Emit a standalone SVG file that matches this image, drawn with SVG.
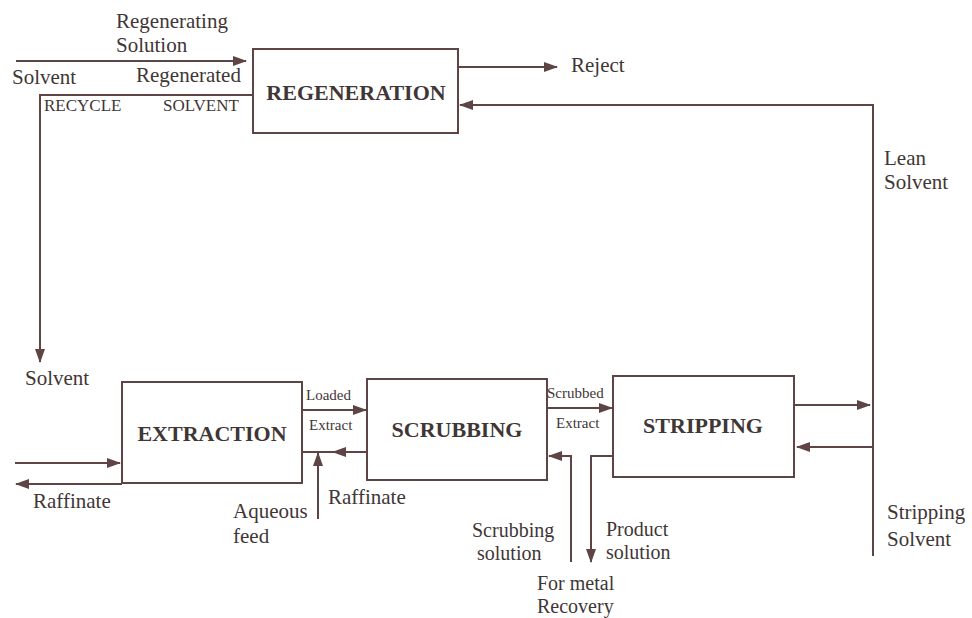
<svg xmlns="http://www.w3.org/2000/svg" width="972" height="618" viewBox="0 0 972 618">
<style>
.box{fill:#fff;stroke:#5e4444;stroke-width:2}
.ln{fill:none;stroke:#5e4444;stroke-width:2}
.t{font-family:"Liberation Serif",serif;font-size:21px;fill:#3f3636}
.m{font-family:"Liberation Serif",serif;font-size:20px;fill:#3f3636}
.s{font-family:"Liberation Serif",serif;font-size:17px;fill:#3f3636}
.xs{font-family:"Liberation Serif",serif;font-size:15px;fill:#3f3636}
.b{font-family:"Liberation Serif",serif;font-size:22px;font-weight:bold;fill:#3f3636}
</style>
<defs>
<marker id="ah" markerUnits="userSpaceOnUse" markerWidth="14" markerHeight="10" refX="13" refY="5" orient="auto">
<path d="M0,0 L14,5 L0,10 Z" fill="#5e4444"/>
</marker>
</defs>
<rect width="972" height="618" fill="#fff"/>
<g id="connectors">
<path class="ln" d="M16,61 H246" marker-end="url(#ah)"/>
<path class="ln" d="M253,95 H40 V362" marker-end="url(#ah)"/>
<path class="ln" d="M458,67 H557" marker-end="url(#ah)"/>
<path class="ln" d="M873,556 V105 H460" marker-end="url(#ah)"/>
<path class="ln" d="M15,463 H120" marker-end="url(#ah)"/>
<path class="ln" d="M122,484 H16" marker-end="url(#ah)"/>
<path class="ln" d="M302,410 H366" marker-end="url(#ah)"/>
<path class="ln" d="M367,452 H333" marker-end="url(#ah)"/>
<path class="ln" d="M333,452 H302"/>
<path class="ln" d="M318,519 V453" marker-end="url(#ah)"/>
<path class="ln" d="M547,408 H612" marker-end="url(#ah)"/>
<path class="ln" d="M571,562 V456 H549" marker-end="url(#ah)"/>
<path class="ln" d="M613,456 H591 V562" marker-end="url(#ah)"/>
<path class="ln" d="M795,405 H870" marker-end="url(#ah)"/>
<path class="ln" d="M873,447 H797" marker-end="url(#ah)"/>
</g>
<g id="regeneration">
<rect class="box" x="253" y="49" width="205" height="84"/>
<text class="b" x="356" y="100" text-anchor="middle">REGENERATION</text>
</g>
<g id="extraction">
<rect class="box" x="122" y="382" width="180" height="101"/>
<text class="b" x="212" y="441" text-anchor="middle">EXTRACTION</text>
</g>
<g id="scrubbing">
<rect class="box" x="367" y="379" width="180" height="101"/>
<text class="b" x="457" y="437" text-anchor="middle">SCRUBBING</text>
</g>
<g id="stripping">
<rect class="box" x="613" y="376" width="181" height="101"/>
<text class="b" x="703" y="433" text-anchor="middle">STRIPPING</text>
</g>
<g id="labels">
<text class="t" x="116" y="28">Regenerating</text>
<text class="t" x="116" y="52">Solution</text>
<text class="t" x="12" y="84">Solvent</text>
<text class="t" x="136" y="82">Regenerated</text>
<text class="s" x="44" y="111">RECYCLE</text>
<text class="s" x="163" y="111">SOLVENT</text>
<text class="t" x="571" y="72">Reject</text>
<text class="t" x="884" y="165">Lean</text>
<text class="t" x="884" y="189">Solvent</text>
<text class="t" x="25" y="385">Solvent</text>
<text class="t" x="33" y="508">Raffinate</text>
<text class="xs" x="306" y="400">Loaded</text>
<text class="xs" x="309" y="430">Extract</text>
<text class="t" x="233" y="518">Aqueous</text>
<text class="t" x="233" y="543">feed</text>
<text class="t" x="328" y="504">Raffinate</text>
<text class="xs" x="547" y="398">Scrubbed</text>
<text class="xs" x="556" y="428">Extract</text>
<text class="m" x="472" y="537">Scrubbing</text>
<text class="m" x="477" y="560">solution</text>
<text class="m" x="606" y="536">Product</text>
<text class="m" x="606" y="559">solution</text>
<text class="m" x="537" y="590">For metal</text>
<text class="m" x="537" y="613">Recovery</text>
<text class="t" x="887" y="519">Stripping</text>
<text class="t" x="887" y="546">Solvent</text>
</g>
</svg>
